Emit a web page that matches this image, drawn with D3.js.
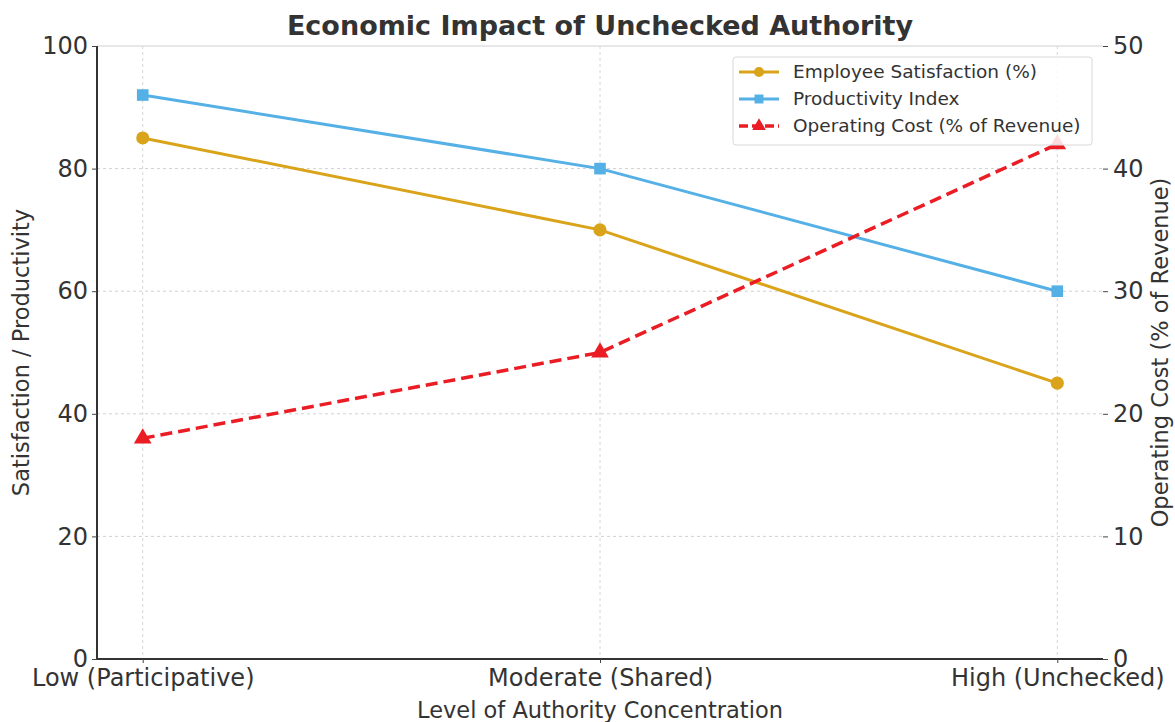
<!DOCTYPE html>
<html>
<head>
<meta charset="utf-8">
<script src="https://cdn.jsdelivr.net/npm/d3@7"></script>
<style>
  body { margin: 0; background: #fff; }
  svg { font-family: "DejaVu Sans", sans-serif; }
</style>
</head>
<body>
<div id="chart"></div>
<script>
const categories = ['Low (Participative)', 'Moderate (Shared)', 'High (Unchecked)'];
const satisfaction = [85, 70, 45];
const productivity = [92, 80, 60];
const operatingCost = [18, 25, 42];
const leftTicks = [0, 20, 40, 60, 80, 100];
const rightTicks = [0, 10, 20, 30, 40, 50];

const width = 1175, height = 722;
const margin = { top: 46, right: 72, bottom: 63, left: 97 };
const innerW = width - margin.left - margin.right;
const innerH = height - margin.top - margin.bottom;

const svg = d3.select('#chart').append('svg')
  .attr('width', width)
  .attr('height', height);

const g = svg.append('g')
  .attr('transform', `translate(${margin.left},${margin.top})`);

// categorical axis with a 5% margin at each end, like matplotlib
const pad = innerW * 0.05 / 1.1;
const x = d3.scalePoint().domain(categories).range([pad, innerW - pad]);
const yL = d3.scaleLinear().domain([0, 100]).range([innerH, 0]);
const yR = d3.scaleLinear().domain([0, 50]).range([innerH, 0]);
const xPos = i => x(categories[i]);

// grid
g.append('g').selectAll('line')
  .data(leftTicks)
  .enter().append('line')
  .attr('x1', 0).attr('x2', innerW)
  .attr('y1', d => yL(d)).attr('y2', d => yL(d))
  .attr('stroke', '#d0d0d0')
  .attr('stroke-width', 1)
  .attr('stroke-dasharray', d => d === 100 ? null : '3,3');

g.append('g').selectAll('line')
  .data(categories)
  .enter().append('line')
  .attr('x1', d => x(d)).attr('x2', d => x(d))
  .attr('y1', 0).attr('y2', innerH)
  .attr('stroke', '#d6d6d6')
  .attr('stroke-width', 1)
  .attr('stroke-dasharray', '3,3');

// axes
const xAxis = g.append('g')
  .attr('transform', `translate(0,${innerH})`)
  .call(d3.axisBottom(x).tickSize(4).tickPadding(4));
xAxis.select('.domain').attr('stroke', '#333').attr('stroke-width', 2).attr('d', `M0,0H${innerW}`);

const leftAxis = g.append('g')
  .call(d3.axisLeft(yL).tickValues(leftTicks).tickSize(5).tickPadding(4));
leftAxis.select('.domain').attr('stroke', '#333').attr('stroke-width', 2).attr('d', `M0,${innerH}V0`);

const rightAxis = g.append('g')
  .attr('transform', `translate(${innerW},0)`)
  .call(d3.axisRight(yR).tickValues(rightTicks).tickSize(5).tickPadding(5));
rightAxis.select('.domain').remove();

g.selectAll('.tick text')
  .attr('fill', '#333')
  .style('font-size', '24px')
  .style('font-family', '"DejaVu Sans", sans-serif');
xAxis.selectAll('.tick text').attr('dy', '0.75em').attr('y', 9);
g.selectAll('.tick line').attr('stroke', '#444');

// lines
const lineL = d3.line().x((d, i) => xPos(i)).y(d => yL(d));
const lineR = d3.line().x((d, i) => xPos(i)).y(d => yR(d));

const series = [
  { name: 'Employee Satisfaction (%)', values: satisfaction, color: '#d9a31a', line: lineL, y: yL, marker: d3.symbolCircle, dash: null, w: 3 },
  { name: 'Productivity Index', values: productivity, color: '#55b0e6', line: lineL, y: yL, marker: d3.symbolSquare, dash: null, w: 3 },
  { name: 'Operating Cost (% of Revenue)', values: operatingCost, color: '#ea1c24', line: lineR, y: yR, marker: d3.symbolTriangle, dash: '12,6', w: 3.5 }
];

series.forEach(s => {
  g.append('path')
    .datum(s.values)
    .attr('fill', 'none')
    .attr('stroke', s.color)
    .attr('stroke-width', s.w)
    .attr('stroke-dasharray', s.dash)
    .attr('d', s.line);
  g.append('g').selectAll('path')
    .data(s.values)
    .enter().append('path')
    .attr('transform', (d, i) => `translate(${xPos(i)},${s.y(d)})`)
    .attr('d', d3.symbol().type(s.marker).size(135))
    .attr('fill', s.color);
});

// title and axis labels
svg.append('text')
  .attr('x', 600).attr('y', 35)
  .attr('text-anchor', 'middle')
  .style('font-size', '27px')
  .style('font-weight', 'bold')
  .attr('fill', '#333')
  .text('Economic Impact of Unchecked Authority');

svg.append('text')
  .attr('x', 600).attr('y', 718)
  .attr('text-anchor', 'middle')
  .style('font-size', '22.5px')
  .attr('fill', '#333')
  .text('Level of Authority Concentration');

svg.append('text')
  .attr('transform', `translate(29,${margin.top + innerH / 2}) rotate(-90)`)
  .attr('text-anchor', 'middle')
  .style('font-size', '22.5px')
  .attr('fill', '#333')
  .text('Satisfaction / Productivity');

svg.append('text')
  .attr('transform', `translate(1168,${margin.top + innerH / 2}) rotate(-90)`)
  .attr('text-anchor', 'middle')
  .style('font-size', '22.5px')
  .attr('fill', '#333')
  .text('Operating Cost (% of Revenue)');

// legend
const legend = svg.append('g').attr('transform', 'translate(733,57)');
legend.append('rect')
  .attr('width', 359).attr('height', 88)
  .attr('fill', '#fff').attr('fill-opacity', 0.85)
  .attr('stroke', '#d8d8d8').attr('rx', 3);

series.forEach((s, i) => {
  const row = legend.append('g').attr('transform', `translate(0,${15 + i * 27})`);
  row.append('line')
    .attr('x1', 6).attr('x2', 46)
    .attr('stroke', s.color).attr('stroke-width', s.w)
    .attr('stroke-dasharray', s.dash ? '9,4' : null);
  row.append('path')
    .attr('transform', 'translate(26,0)')
    .attr('d', d3.symbol().type(s.marker).size(80))
    .attr('fill', s.color);
  row.append('text')
    .attr('x', 60).attr('y', 6)
    .style('font-size', '18.5px')
    .attr('fill', '#333')
    .text(s.name);
});
</script>
</body>
</html>
